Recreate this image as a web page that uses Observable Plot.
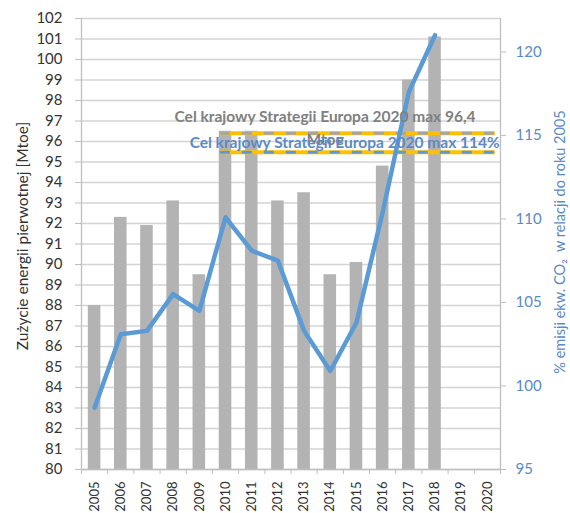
<!DOCTYPE html>
<html>
<head>
<meta charset="utf-8">
<script src="https://cdn.jsdelivr.net/npm/d3@7"></script>
<script src="https://cdn.jsdelivr.net/npm/@observablehq/plot@0.6"></script>
<style>
  html, body { margin: 0; padding: 0; background: #fff; }
  #chart svg { display: block; }
</style>
</head>
<body>
<div id="chart"></div>
<script>
// Data
const barYears = [2005, 2006, 2007, 2008, 2009, 2010, 2011, 2012, 2013, 2014, 2015, 2016, 2017, 2018];
const energy = [88.0, 92.3, 91.9, 93.1, 89.5, 96.5, 96.5, 93.1, 93.5, 89.5, 90.1, 94.8, 99.0, 101.1];
const emissions = [98.7, 103.1, 103.3, 105.5, 104.5, 110.1, 108.1, 107.5, 103.3, 100.9, 103.8, 110.4, 117.6, 121.0];
const axisYears = [2005, 2006, 2007, 2008, 2009, 2010, 2011, 2012, 2013, 2014, 2015, 2016, 2017, 2018, 2019, 2020];
const leftTicks = d3.range(80, 103, 1);
const rightTicks = [95, 100, 105, 110, 115, 120];
const energyTarget = 96.4;
const emissionTarget = 114;
const targetSpan = [2009.8, 2020.3];
const energyTargetLabel = "Cel krajowy Strategii Europa 2020 max 96,4\nMtoe";
const emissionTargetLabel = "Cel krajowy Strategii Europa 2020 max 114%";
const leftTitle = "Zużycie energii pierwotnej [Mtoe]";
const rightTitle = "% emisji ekw. CO₂  w relacji do roku 2005";

// Dual axis mapping: right [95,122] onto left [80,102]
const L0 = 80, L1 = 102, R0 = 95, R1 = 122;
const toLeft = v => L0 + (v - R0) * (L1 - L0) / (R1 - R0);
const fromLeft = v => R0 + (v - L0) * (R1 - R0) / (L1 - L0);

const bars = barYears.map((year, i) => ({year, value: energy[i]}));
const line = barYears.map((year, i) => ({year, value: toLeft(emissions[i])}));
const halfBar = 0.24;

const blue = "#5b9bd5";
const blueText = "#5a8ac8";
const font = "Lato, 'Open Sans', sans-serif";

const chart = Plot.plot({
  width: 570,
  height: 513,
  marginLeft: 81,
  marginRight: 70,
  marginTop: 18,
  marginBottom: 44,
  style: {fontFamily: font, background: "#fff"},
  x: {type: "linear", domain: [2004.5, 2020.5]},
  y: {domain: [L0, L1]},
  marks: [
    // gridlines
    Plot.ruleY(leftTicks, {stroke: "#d4d4d4", strokeWidth: 1.3}),
    // bars
    Plot.rectY(bars, {x1: d => d.year - halfBar, x2: d => d.year + halfBar, y1: L0, y2: "value", fill: "#b3b3b3"}),
    // axis lines
    Plot.ruleX([2004.5, 2020.5], {stroke: "#bfbfbf", strokeWidth: 1.3}),
    Plot.ruleY([L0], {stroke: "#bfbfbf", strokeWidth: 1.3}),
    // target lines
    Plot.ruleY([energyTarget], {x1: targetSpan[0], x2: targetSpan[1], stroke: "#ffc000", strokeWidth: 4}),
    Plot.ruleY([energyTarget], {x1: targetSpan[0], x2: targetSpan[1], stroke: "#a5a5a5", strokeWidth: 3, strokeDasharray: "10,12"}),
    Plot.ruleY([toLeft(emissionTarget)], {x1: targetSpan[0], x2: targetSpan[1], stroke: "#ffc000", strokeWidth: 4}),
    Plot.ruleY([toLeft(emissionTarget)], {x1: targetSpan[0], x2: targetSpan[1], stroke: blue, strokeWidth: 3, strokeDasharray: "10,12"}),
    // emissions line
    Plot.line(line, {x: "year", y: "value", stroke: blue, strokeWidth: 4.5, strokeLinejoin: "round", strokeLinecap: "round"}),
    // left axis
    Plot.axisY({anchor: "left", ticks: leftTicks, tickSize: 6, tickPadding: 13, fontSize: 15, color: "#333", stroke: "#bfbfbf", label: null, tickFormat: d => String(d)}),
    // right axis
    Plot.axisY({anchor: "right", ticks: rightTicks.map(toLeft), tickSize: 5, tickPadding: 10, fontSize: 15, fill: blueText, stroke: "#bfbfbf", label: null, tickFormat: d => String(Math.round(fromLeft(d)))}),
    // x axis: boundary ticks
    Plot.axisX({ticks: axisYears.map(y => y - 0.5).concat([2020.5]), tickSize: 5, tickFormat: () => "", stroke: "#bfbfbf", label: null}),
    // x axis: labels
    Plot.axisX({ticks: axisYears, tickSize: 0, tickPadding: 12, tickRotate: -90, fontSize: 13, fill: "#333", tickFormat: d => String(d), label: null}),
    // target labels
    Plot.text([energyTargetLabel], {x: 2013.8, y: energyTarget, dy: -7, text: d => d, fill: "#808080", fontSize: 15.5, fontWeight: "bold", lineAnchor: "middle", lineHeight: 1.45}),
    Plot.text([emissionTargetLabel], {x: 2014.55, y: toLeft(emissionTarget), dy: -9, text: d => d, fill: blueText, fontSize: 15.5, fontWeight: "bold", lineAnchor: "middle"}),
    // axis titles
    Plot.text([leftTitle], {frameAnchor: "left", textAnchor: "middle", dx: -58, dy: -8, rotate: -90, text: d => d, fill: "#333", fontSize: 15.5}),
    Plot.text([rightTitle], {frameAnchor: "right", textAnchor: "middle", dx: 60, dy: -2, rotate: -90, text: d => d, fill: blueText, fontSize: 14.5})
  ]
});
document.getElementById("chart").appendChild(chart);
</script>
</body>
</html>
